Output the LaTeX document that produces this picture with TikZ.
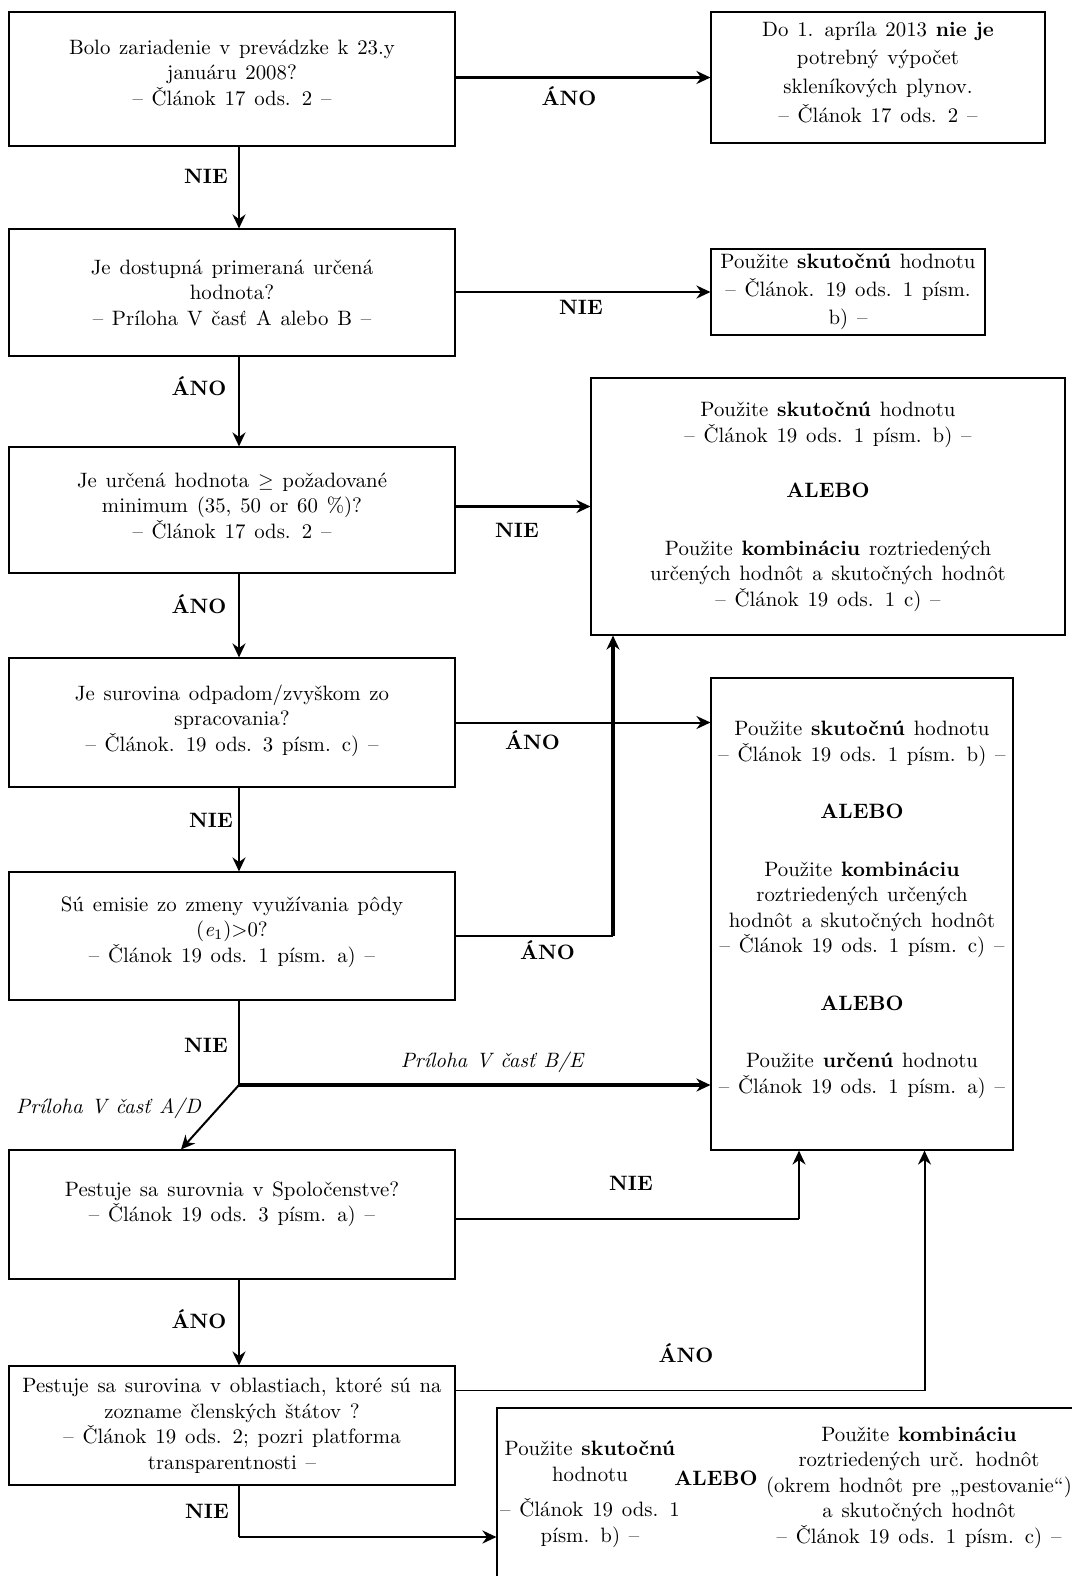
\documentclass[tikz,border=0pt]{standalone}
\usepackage{fontspec}
\usetikzlibrary{arrows.meta,calc}
\newcommand\setfnt[1]{\fontsize{10.4}{#1}\selectfont\spaceskip=4.4pt plus 1pt minus 0.5pt\relax}
\newcommand\myfnt{\setfnt{12.75}}
\newcommand\fntR{\setfnt{14.4}}
\newcommand\fntS{\setfnt{14}}
\tikzset{
  box/.style={draw, line width=0.55pt, align=center, inner sep=0pt, font=\myfnt},
  lbox/.style={box, minimum width=223pt},
  arr/.style={line width=1.3pt, -{Stealth[length=7pt,width=6.5pt]}},
  thinln/.style={line width=0.7pt},
  yn/.style={font=\fontsize{10.4}{12}\selectfont\bfseries, inner sep=0pt},
  itl/.style={font=\myfnt\itshape, inner sep=0pt},
  txt/.style={align=center, inner sep=0pt, font=\myfnt}
}
\begin{document}
\begin{tikzpicture}[x=0.5pt,y=-0.5pt]
\useasboundingbox (0,0) rectangle (1072,1576);
\fill[white] (0,0) rectangle (1072,1576);

% left column
\node[lbox, minimum height=67pt] (b1) at (232,79) {Bolo zariadenie v prevádzke k 23.y\\ januáru 2008?\\ – Článok 17 ods. 2 –\\[-6pt]};
\node[lbox, minimum height=63.5pt] (b2) at (232,292.5) {Je dostupná primeraná určená\\ hodnota?\\ – Príloha V časť A alebo B –};
\node[lbox, minimum height=63pt] (b3) at (232,510) {Je určená hodnota $\geq$ požadované\\ minimum (35, 50 or 60 \%)?\\ – Článok 17 ods. 2 –\\[-8pt]};
\node[lbox, minimum height=64.5pt] (b4) at (232,722.5) {Je surovina odpadom/zvyškom zo\\ spracovania?\\ – Článok. 19 ods. 3 písm. c) –\\[-8pt]};
\node[lbox, minimum height=64pt] (b5) at (232,936) {Sú emisie zo zmeny využívania pôdy\\ (\textit{e}\textsubscript{1})>0?\\ – Článok 19 ods. 1 písm. a) –\\[-6pt]};
\node[lbox, minimum height=64.5pt] (b6) at (232,1214.5) {Pestuje sa surovnia v Spoločenstve?\\ – Článok 19 ods. 3 písm. a) –\\[0pt]};
\node[lbox, minimum height=59.5pt] (b7) at (232,1425.5) {Pestuje sa surovina v oblastiach, ktoré sú na\\ zozname členských štátov ?\\ – Článok 19 ods. 2; pozri platforma\\ transparentnosti –};

% right column
\node[box, minimum width=167pt, minimum height=65.5pt, font=\fntR] (r1) at (878,77.5) {Do 1. apríla 2013 \textbf{nie je}\\ potrebný výpočet\\ skleníkových plynov.\\ – Článok 17 ods. 2 –\\[-9pt]};
\node[box, minimum width=137pt, minimum height=43pt, font=\fntS] (r2) at (848,292) {Použite \textbf{skutočnú} hodnotu\\ – Článok. 19 ods. 1 písm.\\ b) –};
\node[box, minimum width=237pt, minimum height=128.5pt] (r3) at (828,506.5) {Použite \textbf{skutočnú} hodnotu\\ – Článok 19 ods. 1 písm. b) –\\[15pt] \textbf{ALEBO}\\[16pt] Použite \textbf{kombináciu} roztriedených\\ určených hodnôt a skutočných hodnôt\\ – Článok 19 ods. 1 c) –};
\node[box, minimum width=151pt, minimum height=236pt] (r4) at (862,914) {Použite \textbf{skutočnú} hodnotu\\ – Článok 19 ods. 1 písm. b) –\\[16pt] \textbf{ALEBO}\\[16pt] Použite \textbf{kombináciu}\\ roztriedených určených\\ hodnôt a skutočných hodnôt\\ – Článok 19 ods. 1 písm. c) –\\[16pt] \textbf{ALEBO}\\[16pt] Použite \textbf{určenú} hodnotu\\ – Článok 19 ods. 1 písm. a) –\\[-6pt]};
\node[box, minimum width=301.5pt, minimum height=106pt] (r5) at (798.5,1514) {};
\node[txt] (r5a) at (590,1494) {Použite \textbf{skutočnú}\\ hodnotu\\[5pt] – Článok 19 ods. 1\\ písm. b) –};
\node[txt, font=\myfnt\bfseries] (r5o) at (716,1478) {ALEBO};
\node[txt] (r5b) at (919,1487.5) {Použite \textbf{kombináciu}\\ roztriedených urč. hodnôt\\ (okrem hodnôt pre „pestovanie“)\\ a skutočných hodnôt\\ – Článok 19 ods. 1 písm. c) –};

% helper coordinates
\coordinate (tr) at (239,0);
\coordinate (v1) at (613,0);
\coordinate (J) at (239,1085);
\coordinate (dd) at (181,0);
\coordinate (c6) at (799,1219);
\coordinate (c7) at (924.5,1390.5);
\coordinate (c8) at (239,1537);

% connectors
\draw[arr] (b1.east |- r1.west) -- (r1.west);
\draw[arr] (b1.south -| tr) -- (b2.north -| tr);
\draw[arr] (b2.east |- r2.west) -- (r2.west);
\draw[arr] (b2.south -| tr) -- (b3.north -| tr);
\draw[arr] (b3.east |- r3.west) -- (r3.west);
\draw[arr] (b3.south -| tr) -- (b4.north -| tr);
\draw[arr, line width=1pt] (b4.east) -- (b4.east -| r4.west);
\draw[arr] (b4.south -| tr) -- (b5.north -| tr);
\draw[thinln] (b5.east) -- (b5.east -| v1);
\draw[arr, line width=2.4pt] (b5.east -| v1) -- (v1 |- r3.south);
\draw[thinln] (b5.south -| tr) -- (J);
\draw[arr, line width=1.8pt] (J) -- (J -| r4.west);
\draw[arr, line width=1pt] (J) -- (b6.north -| dd);
\draw[line width=0.8pt] (b6.east |- c6) -- (c6);
\draw[arr, line width=1pt] (c6) -- (c6 |- r4.south);
\draw[arr] (b6.south -| tr) -- (b7.north -| tr);
\draw[line width=0.8pt] (b7.east |- c7) -- (c7);
\draw[arr, line width=1pt] (c7) -- (c7 |- r4.south);
\draw[thinln] (b7.south -| tr) -- (c8);
\draw[arr] (c8) -- (c8 -| r5.west);

% labels
\node[yn] (l1) at (569,96.5) {ÁNO};
\node[yn] (l2) at (206,176) {NIE};
\node[yn] (l3) at (581,307) {NIE};
\node[yn] (l4) at (199,386) {ÁNO};
\node[yn] (l5) at (517,530.5) {NIE};
\node[yn] (l6) at (199,604) {ÁNO};
\node[yn] (l7) at (532.5,740.5) {ÁNO};
\node[yn] (l8) at (211,820) {NIE};
\node[yn] (l9) at (547.5,950.5) {ÁNO};
\node[yn] (l10) at (206,1045) {NIE};
\node[itl] (l11) at (492,1062) {Príloha V časť B/E};
\node[itl] (l12) at (108.5,1108) {Príloha V časť A/D};
\node[yn] (l13) at (631,1183.5) {NIE};
\node[yn] (l14) at (199,1319) {ÁNO};
\node[yn] (l15) at (686,1353) {ÁNO};
\node[yn] (l16) at (207,1511) {NIE};
\end{tikzpicture}
\end{document}
